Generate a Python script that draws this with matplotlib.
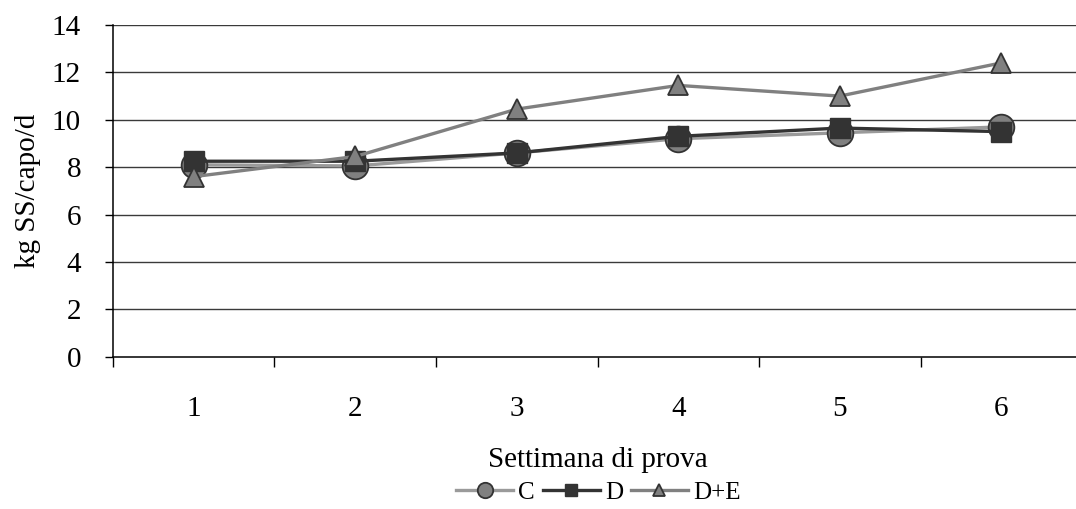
import matplotlib.pyplot as plt
from matplotlib.ticker import FixedLocator

# data
weeks = [1, 2, 3, 4, 5, 6]
week_labels = ["1", "2", "3", "4", "5", "6"]
c_vals = [8.1, 8.05, 8.6, 9.2, 9.45, 9.7]
d_vals = [8.25, 8.25, 8.6, 9.3, 9.65, 9.5]
de_vals = [7.6, 8.45, 10.45, 11.45, 11.0, 12.4]
y_ticks = [0, 2, 4, 6, 8, 10, 12, 14]

plt.rcParams['font.family'] = ['Liberation Serif', 'DejaVu Serif']

fig = plt.figure(figsize=(10.76, 5.09), dpi=100)
# right edge goes past the figure, the reference is cut off there
ax = fig.add_axes([0.105, 0.2992, 0.9006, 0.6517])

edge = '#333333'
ax.plot(weeks, c_vals, color='#9a9a9a', lw=2.4, marker='o', ms=18.5,
        mfc='#808080', mec=edge, mew=1.3, label='C', zorder=3)
ax.plot(weeks, d_vals, color='#333333', lw=2.4, marker='s', ms=14,
        mfc='#333333', mec=edge, mew=1.0, label='D', zorder=4)
ax.plot(weeks, de_vals, color='#808080', lw=2.4, marker='^', ms=15,
        mfc='#808080', mec=edge, mew=1.3, label='D+E', zorder=5)

ax.set_xlim(0.5, 6.5)
ax.set_ylim(0, 14)
ax.set_yticks(y_ticks)
ax.set_yticklabels([str(v) for v in y_ticks])
ax.set_xticks(weeks)
ax.set_xticklabels(week_labels)
ax.xaxis.set_minor_locator(FixedLocator([0.5, 1.5, 2.5, 3.5, 4.5, 5.5]))

for y in y_ticks[1:]:
    ax.axhline(y, color='#3a3a3a', lw=1.0, zorder=1)

ax.spines['top'].set_visible(False)
ax.spines['right'].set_visible(False)
ax.spines['left'].set_color('black')
ax.spines['bottom'].set_color('black')
ax.spines['left'].set_linewidth(1.1)
ax.spines['bottom'].set_linewidth(1.1)

ax.tick_params(axis='y', direction='out', length=6, width=1, pad=17, labelsize=21)
ax.tick_params(axis='x', which='major', length=0, pad=28, labelsize=21)
ax.tick_params(axis='x', which='minor', direction='out', length=7, width=1)

ax.set_ylabel('kg SS/capo/d', fontsize=21, labelpad=8)
ax.set_xlabel('Settimana di prova', fontsize=21, labelpad=18)

fig.legend(loc='center', bbox_to_anchor=(0.556, 0.032), ncol=3, frameon=False,
           fontsize=18, markerscale=0.6, handlelength=2.3, handletextpad=0.2,
           columnspacing=0.3)

fig.savefig('out.png', dpi=100)
